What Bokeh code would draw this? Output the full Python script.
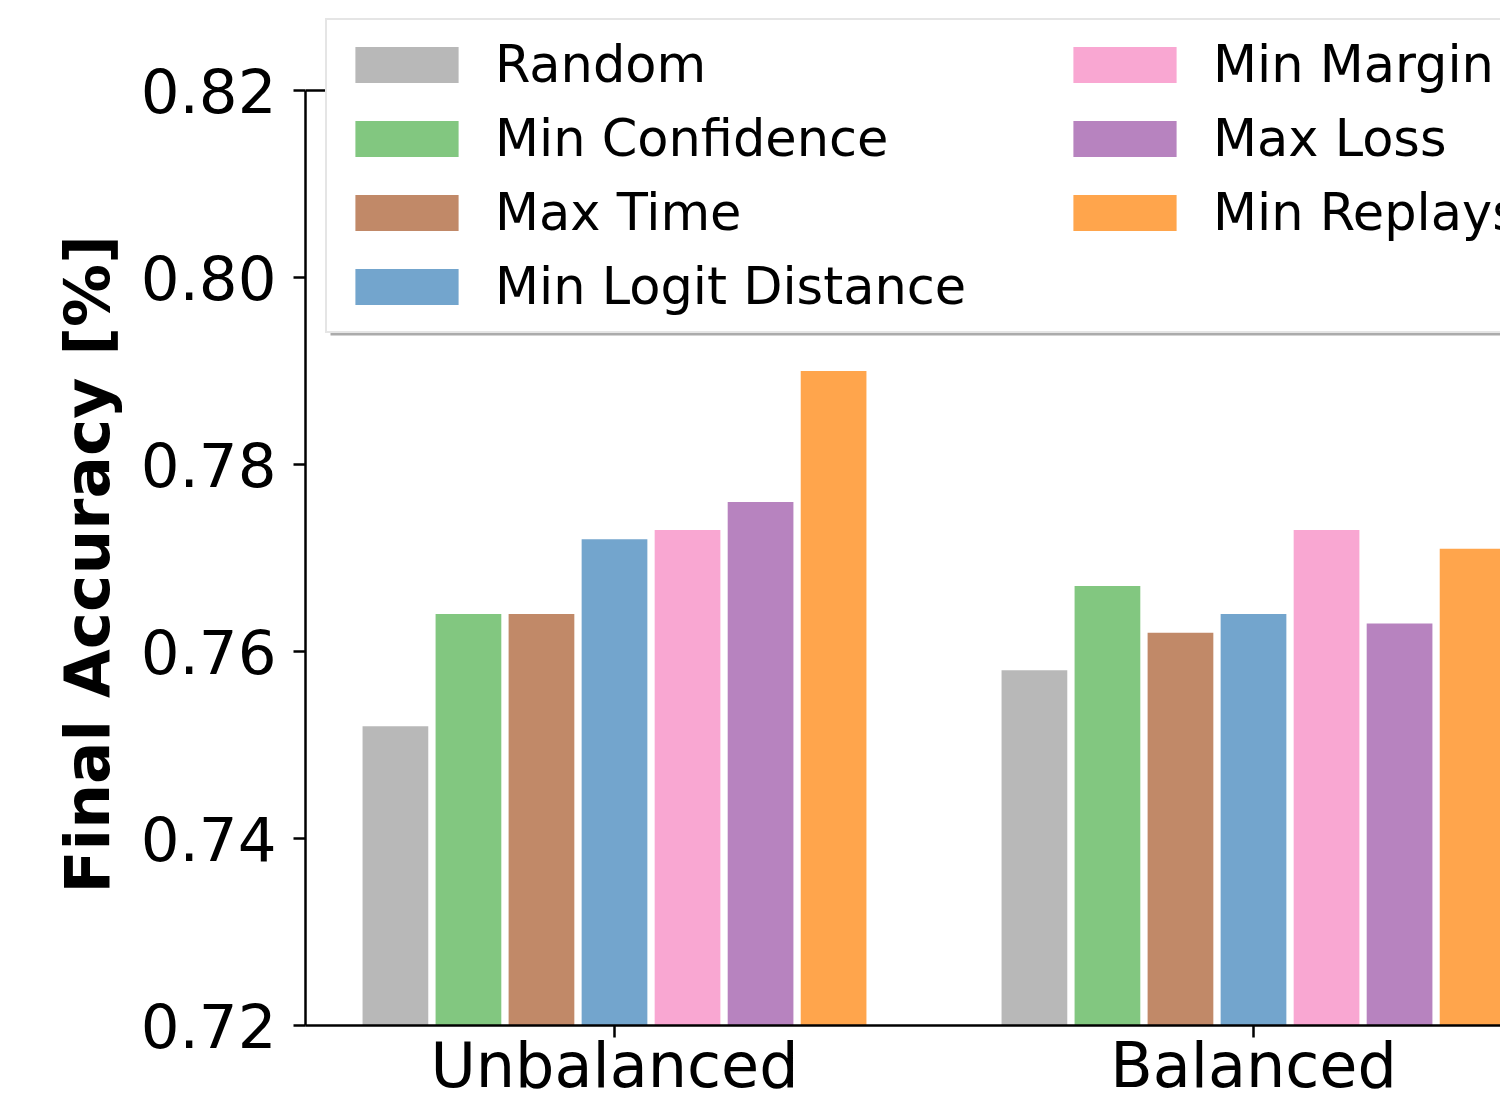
from bokeh.plotting import figure
from bokeh.models import (ColumnDataSource, FixedTicker, NumeralTickFormatter,
                          Legend, LegendItem, Range1d, BoxAnnotation, Span, Title)
from bokeh.transform import dodge
from bokeh.embed import file_html
from bokeh.resources import INLINE

# ---- data ----
groups = ["Unbalanced", "Balanced"]
group_pos = [0, 1]
methods = ["Random", "Min Confidence", "Max Time", "Min Logit Distance",
           "Min Margin", "Max Loss", "Min Replays"]
random_acc = [0.752, 0.758]
min_confidence = [0.764, 0.767]
max_time = [0.764, 0.762]
min_logit_distance = [0.772, 0.764]
min_margin = [0.773, 0.773]
max_loss = [0.776, 0.763]
min_replays = [0.790, 0.771]
colors = ["#b8b8b8", "#82c780", "#c18968", "#73a5cd", "#f9a7d2", "#b783bf", "#ffa54c"]
y_ticks = [0.72, 0.74, 0.76, 0.78, 0.80, 0.82]
y_min, y_max = 0.72, 0.82
y_label = "Final Accuracy [%]"

keys = ["random", "min_confidence", "max_time", "min_logit_distance",
        "min_margin", "max_loss", "min_replays"]
src = ColumnDataSource(dict(x=group_pos, random=random_acc, min_confidence=min_confidence,
                            max_time=max_time, min_logit_distance=min_logit_distance,
                            min_margin=min_margin, max_loss=max_loss, min_replays=min_replays))

FONT = "DejaVu Sans"
p = figure(width=1500, height=1104, output_backend="svg", toolbar_location=None,
           x_range=Range1d(-0.483568, 1.386541), y_range=Range1d(y_min, 0.829626),
           min_border_left=305, min_border_top=0, min_border_bottom=0, min_border_right=0)
p.outline_line_color = None
p.grid.visible = False
p.background_fill_color = "white"

step = 0.8 / 7
renderers = []
for i, (k, c) in enumerate(zip(keys, colors)):
    r = p.vbar(x=dodge("x", (i - 3) * step, range=p.x_range), top=k, bottom=0,
               width=0.9 * step, source=src, fill_color=c, line_color=None)
    renderers.append(r)

# axes
for ax in (p.xaxis[0], p.yaxis[0]):
    ax.axis_line_width = 2.5
    ax.axis_line_color = "black"
    ax.major_tick_line_width = 2.5
    ax.major_tick_in = 0
    ax.major_tick_out = 12
    ax.minor_tick_out = 0
    ax.minor_tick_in = 0
    ax.major_label_text_font = FONT
    ax.major_label_text_color = "black"

p.xaxis.ticker = FixedTicker(ticks=group_pos)
p.xaxis.major_label_overrides = {pos: g for pos, g in zip(group_pos, groups)}
p.xaxis.major_label_text_font_size = "62px"
p.xaxis.major_label_standoff = -9

p.yaxis.ticker = FixedTicker(ticks=y_ticks)
p.yaxis.bounds = (y_min, y_max)
p.yaxis.formatter = NumeralTickFormatter(format="0.00")
p.yaxis.major_label_text_font_size = "61px"
p.yaxis.major_label_standoff = 17

# y label as a side title (so it can be centred on the axis span, not the frame)
p.add_layout(Title(text=y_label, align="left", offset=132, standoff=28,
                   vertical_align="bottom", text_font=FONT, text_font_size="63px",
                   text_font_style="bold", text_color="black"), "left")

# top spine
p.add_layout(Span(location=y_max, dimension="width", line_color="black", line_width=2.5))

# legend shadow
shadow = BoxAnnotation(left=25, right=1400, bottom=690, top=998,
                       left_units="screen", right_units="screen",
                       bottom_units="screen", top_units="screen",
                       fill_color="#888888", fill_alpha=0.7, line_color=None)
p.add_layout(shadow)

legend = Legend(items=[LegendItem(label=m, renderers=[r]) for m, r in zip(methods, renderers)],
                location=(20, 692), nrows=4, orientation="vertical",
                glyph_width=129, glyph_height=45, label_height=45, label_width=550,
                label_standoff=24, spacing=15, padding=15, margin=0,
                label_text_font=FONT, label_text_font_size="51px", label_text_color="black",
                border_line_color="#cccccc", border_line_width=2,
                background_fill_color="white", background_fill_alpha=1.0)
p.add_layout(legend)

open("out.html", "w").write(file_html(p, INLINE))
